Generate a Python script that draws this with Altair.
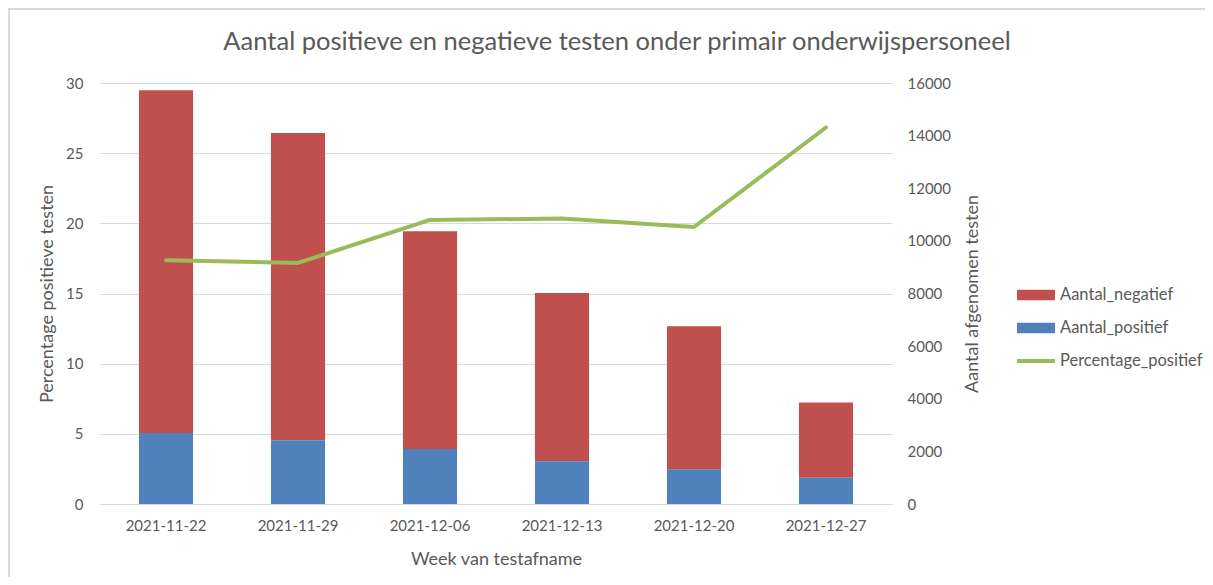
import altair as alt
import pandas as pd

weeks = ["2021-11-22", "2021-11-29", "2021-12-06", "2021-12-13", "2021-12-20", "2021-12-27"]
aantal_positief = [2700, 2420, 2090, 1620, 1325, 995]
aantal_negatief = [13020, 11680, 8275, 6400, 5430, 2860]
percentage_positief = [17.37, 17.18, 20.24, 20.34, 19.74, 26.83]

series_names = ["Aantal_negatief", "Aantal_positief", "Percentage_positief"]
series_colors = ["#C0504D", "#4F81BD", "#9BBB59"]
legend_shapes = [
    "M-1,-0.27L1,-0.27L1,0.27L-1,0.27Z",
    "M-1,-0.27L1,-0.27L1,0.27L-1,0.27Z",
    "M-1,-0.1L1,-0.1L1,0.1L-1,0.1Z",
]

bars = pd.DataFrame(
    [{"week": w, "serie": "Aantal_negatief", "waarde": n, "volg": 0} for w, n in zip(weeks, aantal_negatief)]
    + [{"week": w, "serie": "Aantal_positief", "waarde": p, "volg": 1} for w, p in zip(weeks, aantal_positief)]
)
line = pd.DataFrame({"week": weeks, "serie": "Percentage_positief", "pct": percentage_positief})
legend_df = pd.DataFrame({"serie": series_names})

FONT = "Lato"
GREY = "#595959"
BORDER = "#D9D9D9"

color_scale = alt.Scale(domain=series_names, range=series_colors)
x_enc = alt.X(
    "week:N",
    title="Week van testafname",
    sort=weeks,
    scale=alt.Scale(paddingInner=0.59, paddingOuter=0.295),
    axis=alt.Axis(labelAngle=0, labelFontSize=15, labelColor=GREY, titleFontSize=18,
                  titleColor=GREY, titleFontWeight="normal", ticks=False, domain=True,
                  domainColor=BORDER, labelPadding=14, titlePadding=17),
)

bar_layer = alt.Chart(bars).mark_bar().encode(
    x=x_enc,
    y=alt.Y("waarde:Q", stack="zero",
            scale=alt.Scale(domain=[0, 16000]),
            axis=alt.Axis(orient="right", title="Aantal afgenomen testen", values=list(range(0, 16001, 2000)),
                          format="d", grid=False, ticks=False, domain=False, labelFontSize=15,
                          labelColor=GREY, labelPadding=15, titleFontSize=18, titleColor=GREY,
                          titleFontWeight="normal", titleAngle=270, titleBaseline="top",
                          titlePadding=13)),
    color=alt.Color("serie:N", scale=color_scale),
    order=alt.Order("volg:Q", sort="descending"),
)

line_layer = alt.Chart(line).mark_line(strokeWidth=4, strokeCap="round", strokeJoin="round").encode(
    x=alt.X("week:N", sort=weeks),
    y=alt.Y("pct:Q", scale=alt.Scale(domain=[0, 30]),
            axis=alt.Axis(orient="left", title="Percentage positieve testen", values=list(range(0, 31, 5)),
                          grid=True, gridColor=BORDER, ticks=False, domain=False, labelFontSize=15,
                          labelColor=GREY, labelPadding=17, titleFontSize=18, titleColor=GREY,
                          titleFontWeight="normal", titlePadding=9)),
    color=alt.Color("serie:N", scale=color_scale),
)

leg = alt.Legend(title=None, orient="none", legendX=917, legendY=193,
                 labelFontSize=16.5, labelColor=GREY, symbolSize=1444, labelLimit=300,
                 symbolOpacity=1, symbolStrokeWidth=0, rowPadding=5,
                 labelOffset=5)

legend_layer = alt.Chart(legend_df).mark_point(opacity=0, filled=True).encode(
    color=alt.Color("serie:N", scale=color_scale, legend=leg),
    shape=alt.Shape("serie:N", scale=alt.Scale(domain=series_names, range=legend_shapes), legend=leg),
)

frame_df = pd.DataFrame({"k": [0]})
frame_left = alt.Chart(frame_df).mark_rule(color=BORDER, strokeWidth=2).encode(
    x=alt.value(-91), y=alt.value(-74), y2=alt.value(494))
frame_top = alt.Chart(frame_df).mark_rule(color=BORDER, strokeWidth=2).encode(
    x=alt.value(-92), x2=alt.value(1105), y=alt.value(-74))

chart = (
    alt.layer(bar_layer, line_layer, legend_layer, frame_left, frame_top)
    .resolve_scale(y="independent")
    .properties(
        width=792, height=421,
        title=alt.Title("Aantal positieve en negatieve testen onder primair onderwijspersoneel",
                        fontSize=25.5, color=GREY, fontWeight="normal", font=FONT, offset=20,
                        dx=121, dy=67),
        autosize=alt.AutoSizeParams(type="none"),
        padding={"left": 92, "top": 75, "right": 313, "bottom": 73},
    )
    .configure(font=FONT)
    .configure_view(stroke=None)
)

chart.save("out.html", embed_options={"renderer": "svg", "actions": False})
